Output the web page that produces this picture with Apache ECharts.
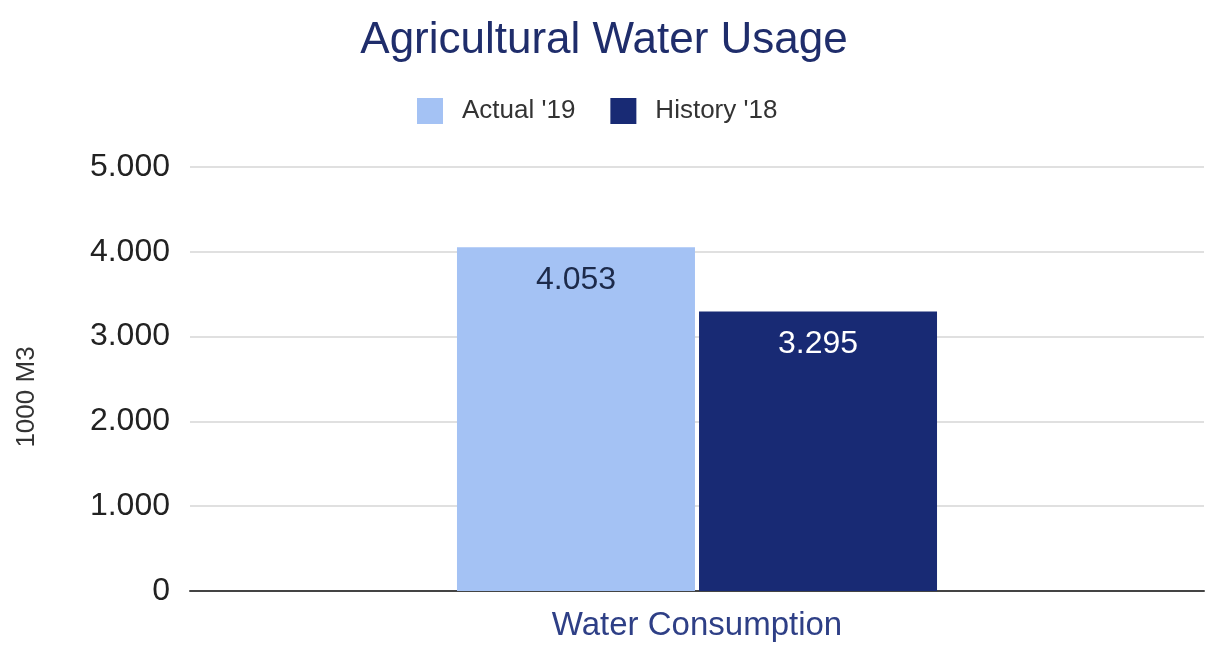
<!DOCTYPE html>
<html>
<head>
<meta charset="utf-8">
<script src="https://cdn.jsdelivr.net/npm/echarts@6/dist/echarts.min.js"></script>
<style>
html,body{margin:0;padding:0;background:#fff;}
#chart{width:1218px;height:646px;}
</style>
</head>
<body>
<div id="chart"></div>
<script>
const categories = ["Water Consumption"];
const seriesNames = ["Actual '19", "History '18"];
const actual19 = [4053];
const history18 = [3295];
const yTicks = [0, 1000, 2000, 3000, 4000, 5000];

function fmt(v) {
  return String(Math.round(v)).replace(/\B(?=(\d{3})+(?!\d))/g, '.');
}

const chart = echarts.init(document.getElementById('chart'), null, {renderer: 'canvas'});
const font = 'Liberation Sans, Arial, sans-serif';
chart.setOption({
  animation: false,
  backgroundColor: '#ffffff',
  textStyle: {fontFamily: font},
  title: {
    text: 'Agricultural Water Usage',
    left: 599, textAlign: 'center', top: 14,
    textStyle: {fontFamily: font, fontSize: 44, fontWeight: 'normal', color: '#1f2d6b'}
  },
  legend: {
    data: seriesNames,
    top: 93, left: 412,
    itemWidth: 26, itemHeight: 26, itemGap: 35,
    icon: 'rect',
    textStyle: {fontFamily: font, fontSize: 26, color: '#333', padding: [0,0,0,14]}
  },
  grid: {left: 190, right: 14, top: 167, bottom: 55, containLabel: false},
  xAxis: {
    type: 'category',
    data: categories,
    axisLine: {lineStyle: {color: '#444', width: 2}},
    axisTick: {show: false},
    axisLabel: {fontFamily: font, fontSize: 33, color: '#2e3f86', margin: 18}
  },
  yAxis: {
    type: 'value',
    min: yTicks[0], max: yTicks[yTicks.length - 1], interval: 1000,
    name: '1000 M3',
    nameLocation: 'middle', nameRotate: 90, nameGap: 150,
    nameTextStyle: {fontFamily: font, fontSize: 26, color: '#333', padding: [0, 36, 0, 0]},
    axisLine: {show: false},
    axisTick: {show: false},
    axisLabel: {fontFamily: font, fontSize: 32, color: '#222', margin: 20, formatter: fmt},
    splitLine: {lineStyle: {color: '#d6d6d6', width: 1.5}}
  },
  series: [
    {
      name: seriesNames[0], type: 'bar', data: actual19,
      barWidth: 238, barGap: '1.7%',
      itemStyle: {color: '#a4c2f4'},
      label: {show: true, position: 'insideTop', distance: 17, fontFamily: font, fontSize: 32, color: '#1c2a4a', formatter: p => fmt(p.value)}
    },
    {
      name: seriesNames[1], type: 'bar', data: history18,
      barWidth: 238, barGap: '1.7%',
      itemStyle: {color: '#182a74'},
      label: {show: true, position: 'insideTop', distance: 17, fontFamily: font, fontSize: 32, color: '#ffffff', formatter: p => fmt(p.value)}
    }
  ]
});
</script>
</body>
</html>
